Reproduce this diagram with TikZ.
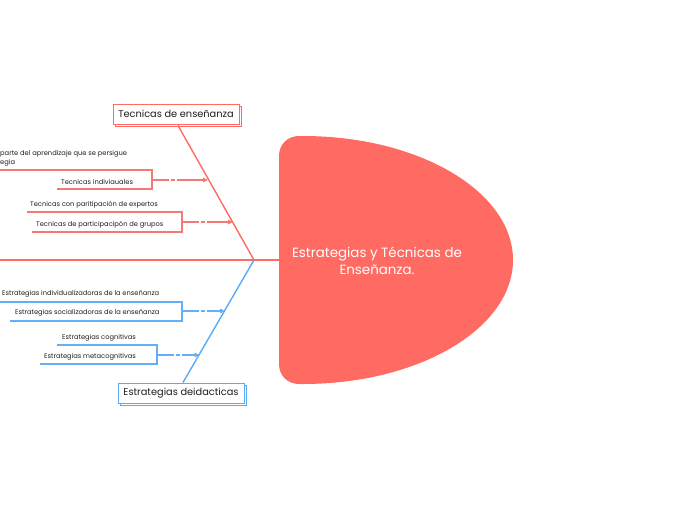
\documentclass[tikz,border=0pt]{standalone}
\usepackage{fontspec}
\setmainfont{Poppins}
\usetikzlibrary{arrows.meta,shadows}
\definecolor{cred}{RGB}{255,106,99}
\definecolor{cblue}{RGB}{90,170,245}
\definecolor{lred}{RGB}{246,120,116}
\definecolor{lblue}{RGB}{100,175,245}
\definecolor{txt}{RGB}{30,30,30}
\tikzset{
  box/.style={draw=#1, line width=1pt, fill=white, minimum width=126pt, minimum height=20pt,
    inner sep=0pt, font=\fontsize{9.8}{10}\selectfont, text=txt,
    copy shadow={shadow xshift=2.5pt, shadow yshift=-2.5pt}},
  lbl/.style={inner sep=0pt, font=\fontsize{6.7}{7}\selectfont, text=txt, anchor=west},
  brk/.style={draw=#1, line width=1.1pt},
  arr/.style={draw=#1, line width=1.1pt, -{Triangle[length=5pt,width=4.5pt]},
    dash pattern=on 17pt off 1.5pt on 4pt off 2pt on 60pt},
}
\begin{document}
\begin{tikzpicture}[x=1pt,y=-1pt]
\useasboundingbox (0,0) rectangle (697,520);
% main shape
\fill[cred] (303,136) arc[start angle=-90, end angle=90, x radius=210, y radius=124]
  -- (299,384) .. controls (288,384) and (279,376) .. (279,364)
  -- (279,156) .. controls (279,144) and (288,136) .. (299,136) -- cycle;
\node[inner sep=0pt, align=center, text=white, font=\fontsize{13.4}{17.5}\selectfont] (main) at (377,261)
  {Estrategias y Técnicas de\\Enseñanza.};
% spine
\coordinate (j) at (254,260);
\coordinate (s0) at (0,260);
\coordinate (s1) at (279,260);
\draw[cred, line width=1.6pt] (s0) -- (s1);
% top box and bottom box
\node[box=cred] (tec) at (176,114) {Tecnicas de enseñanza};
\node[box=cblue] (est) at (181,393) {Estrategias deidacticas};
\draw[cred, line width=1.4pt] (j) -- (178,125.5);
\draw[cblue, line width=1.4pt] (j) -- (183,382.5);
% red group 1
\node[lbl] (r1a) at (0,154) {parte del aprendizaje que se persigue};
\node[lbl] (r1b) at (0,163) {egia};
\node[lbl] (r1c) at (61,181.5) {Tecnicas indiviauales};
\coordinate (r1t) at (152,170);
\coordinate (r1m) at (152,180);
\coordinate (r1tip) at (208,180);
\draw[brk=lred] (0,170) -- (r1t) -- (152,189) -- (57,189);
\draw[arr=lred] (r1m) -- (r1tip);
% red group 2
\node[lbl] (r2a) at (30,205) {Tecnicas con paritipación de expertos};
\node[lbl] (r2b) at (36,224.5) {Tecnicas de participacipón de grupos};
\coordinate (r2m) at (182,222);
\coordinate (r2tip) at (233,222);
\draw[brk=lred] (27,212) -- (182,212) -- (182,232) -- (32,232);
\draw[arr=lred] (r2m) -- (r2tip);
% blue group 1
\node[lbl] (b1a) at (2,294) {Estrategias individualizadoras de la enseñanza};
\node[lbl] (b1b) at (15,313) {Estrategias socializadoras de la enseñanza};
\coordinate (b1m) at (182,311);
\coordinate (b1tip) at (225,311);
\draw[brk=lblue] (0,302) -- (182,302) -- (182,321) -- (10,321);
\draw[arr=lblue] (b1m) -- (b1tip);
% blue group 2
\node[lbl] (b2a) at (62,338) {Estrategias cognitivas};
\node[lbl] (b2b) at (44,356.5) {Estrategias metacognitivas};
\coordinate (b2m) at (157,355);
\coordinate (b2tip) at (199.5,355);
\draw[brk=lblue] (57,345) -- (157,345) -- (157,364) -- (40,364);
\draw[arr=lblue] (b2m) -- (b2tip);
\end{tikzpicture}
\end{document}
